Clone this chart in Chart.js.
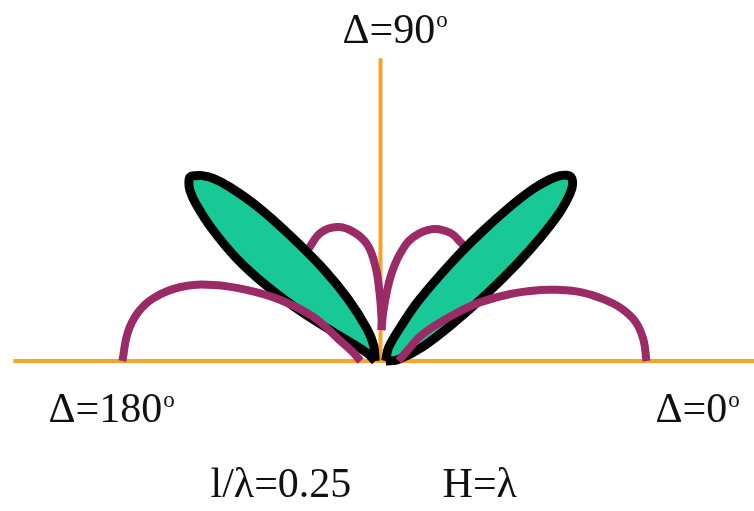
<!DOCTYPE html>
<html>
<head>
<meta charset="utf-8">
<title>Radiation pattern</title>
<script src="https://cdn.jsdelivr.net/npm/chart.js@4/dist/chart.umd.min.js"></script>
<style>
  html, body { margin: 0; padding: 0; background: #ffffff; }
  canvas { display: block; }
</style>
</head>
<body>
<canvas id="pattern" width="754" height="511"></canvas>
<script>
// Polar radiation pattern, angle Δ in degrees, relative field strength (gain).

// Wide low-angle lobes (purple)
const outerRightAngle = [0, 4.6, 8.7, 12.5, 16.0, 19.0, 21.9, 23.9, 27.3, 30.5, 32.0, 33.0, 32.0, 25.0, 0];
const outerRightGain  = [1.015, 1.007, 0.985, 0.938, 0.873, 0.808, 0.728, 0.668, 0.558, 0.443, 0.360, 0.259, 0.180, 0.126, 0.069];
const outerLeftAngle  = [180, 173.7, 168.8, 164.5, 159.7, 155.5, 151.9, 148.6, 146.7, 153.4, 162.0, 180];
const outerLeftGain   = [0.985, 0.971, 0.945, 0.899, 0.814, 0.700, 0.575, 0.447, 0.306, 0.171, 0.112, 0.076];

// Small high-angle lobes (purple), partly behind the main lobes
const smallLeftAngle  = [127.8, 123.3, 115.1, 107.8, 101.8, 96.4, 93.0, 90.8, 88.7, 88.2];
const smallLeftGain   = [0.498, 0.507, 0.540, 0.537, 0.503, 0.446, 0.359, 0.260, 0.168, 0.118];
const smallRightAngle = [49.0, 56.1, 61.3, 68.1, 75.1, 79.5, 83.2, 86.6, 88.2];
const smallRightGain  = [0.536, 0.547, 0.557, 0.543, 0.490, 0.419, 0.323, 0.195, 0.118];

// Main lobes (green, outlined), traced counter-clockwise from the origin
const mainRightAngle = [0, 3.8, 18.6, 27.6, 32.5, 35.4, 37.6, 39.5, 41.0, 42.1, 43.1, 44.0,
                        44.9, 45.9, 47.0, 48.4, 50.0, 52.0, 54.2, 57.7, 59.4, 58.9, 0];
const mainRightGain  = [0.02, 0.065, 0.169, 0.318, 0.487, 0.637, 0.768, 0.881, 0.948, 0.985, 1.004, 1.011,
                        1.004, 0.985, 0.948, 0.880, 0.768, 0.617, 0.465, 0.275, 0.158, 0.059, 0.02];
const mainLeftAngle  = [180, 114.2, 112.5, 117.6, 121.7, 125.6, 128.5, 130.9, 132.5, 133.9, 135.0, 136.0,
                        137.0, 138.1, 139.5, 141.9, 144.5, 146.5, 148.1, 148.4, 149.1, 180];
const mainLeftGain   = [0.02, 0.062, 0.129, 0.266, 0.410, 0.582, 0.751, 0.878, 0.945, 0.982, 1.000, 1.011,
                        1.000, 0.978, 0.929, 0.817, 0.675, 0.524, 0.355, 0.195, 0.059, 0.02];

// Reference axes: ground line (0° to 180°) and zenith (90°)
const groundAngle = [180, 0];
const groundGain  = [1.401, 1.45];
const zenithAngle = [90, 90];
const zenithGain  = [0, 1.156];

// Text
const angleLabels = [
  { text: 'Δ=90',  sup: 'o', x: -0.145, y: 1.214 },
  { text: 'Δ=180', sup: 'o', x: -1.267, y: -0.233 },
  { text: 'Δ=0',   sup: 'o', x: 1.050,  y: -0.233 }
];
const captionLabels = [
  { text: 'l/λ=0.25', x: -0.649, y: -0.519 },
  { text: 'H=λ',      x: 0.237,  y: -0.519 }
];

const PURPLE = '#9a2b67';
const GREEN  = '#18c896';
const ORANGE = '#f2a52a';
const INK    = '#111111';

function polarPoints(angles, gains) {
  return angles.map((a, i) => {
    const t = a * Math.PI / 180;
    return { x: gains[i] * Math.cos(t), y: gains[i] * Math.sin(t) };
  });
}

function lobeLine(points, color, width, order) {
  return {
    data: points, showLine: true, fill: false,
    borderColor: color, borderWidth: width, order,
    tension: 0.4, borderCapStyle: 'butt', borderJoinStyle: 'round',
    pointRadius: 0
  };
}

function filledLobe(points, order) {
  return {
    data: points, showLine: true, fill: 'shape',
    backgroundColor: GREEN, borderColor: '#000000', borderWidth: 9, order,
    tension: 0.35, borderJoinStyle: 'round', pointRadius: 0
  };
}

const labelPlugin = {
  id: 'patternLabels',
  afterDraw(chart) {
    const { ctx, scales: { x, y } } = chart;
    const family = '"Liberation Serif", "Times New Roman", serif';
    const size = 42;
    ctx.save();
    ctx.fillStyle = INK;
    ctx.textAlign = 'left';
    ctx.textBaseline = 'alphabetic';
    for (const lab of angleLabels.concat(captionLabels)) {
      const px = x.getPixelForValue(lab.x);
      const py = y.getPixelForValue(lab.y);
      ctx.font = size + 'px ' + family;
      ctx.fillText(lab.text, px, py);
      if (lab.sup) {
        const w = ctx.measureText(lab.text).width;
        ctx.font = Math.round(size * 0.55) + 'px ' + family;
        ctx.fillText(lab.sup, px + w + 1, py - size * 0.37);
      }
    }
    ctx.restore();
  }
};

new Chart(document.getElementById('pattern'), {
  type: 'scatter',
  data: {
    datasets: [
      lobeLine(polarPoints(outerRightAngle, outerRightGain), PURPLE, 8, 0),
      lobeLine(polarPoints(outerLeftAngle, outerLeftGain), PURPLE, 8, 0),
      filledLobe(polarPoints(mainRightAngle, mainRightGain), 1),
      filledLobe(polarPoints(mainLeftAngle, mainLeftGain), 1),
      lobeLine(polarPoints(smallRightAngle, smallRightGain), PURPLE, 8, 2),
      lobeLine(polarPoints(smallLeftAngle, smallLeftGain), PURPLE, 8, 2),
      Object.assign(lobeLine(polarPoints(groundAngle, groundGain), ORANGE, 4, 3), { tension: 0 }),
      Object.assign(lobeLine(polarPoints(zenithAngle, zenithGain), ORANGE, 4, 3), { tension: 0 })
    ]
  },
  options: {
    responsive: false,
    animation: false,
    layout: { padding: 0 },
    plugins: { legend: { display: false }, tooltip: { enabled: false } },
    scales: {
      x: { type: 'linear', display: false, min: -1.4523, max: 1.4256 },
      y: { type: 'linear', display: false, min: -0.5725, max: 1.3779 }
    }
  },
  plugins: [labelPlugin]
});
</script>
</body>
</html>
